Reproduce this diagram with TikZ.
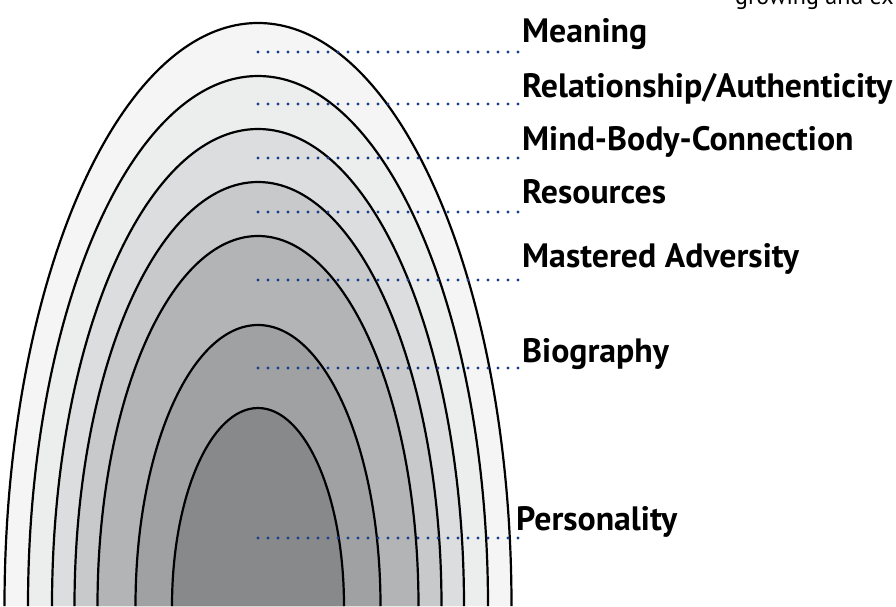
\documentclass[tikz,border=0pt]{standalone}
\usepackage{fontspec}
\setmainfont{PT Sans}
\definecolor{shadeA}{HTML}{F5F5F5}
\definecolor{shadeB}{HTML}{ECEDED}
\definecolor{shadeC}{HTML}{DCDDDF}
\definecolor{shadeD}{HTML}{C8C9CB}
\definecolor{shadeE}{HTML}{B3B4B6}
\definecolor{shadeF}{HTML}{A0A1A3}
\definecolor{shadeG}{HTML}{88898B}
\definecolor{dotblue}{RGB}{22,62,140}
\begin{document}
\begin{tikzpicture}[x=1pt,y=1pt,
  ring/.style={draw=black, line width=2.2pt},
  leader/.style={draw=dotblue, line width=3.3pt, line cap=round, dash pattern=on 0pt off 10pt},
  layer/.style={anchor=base west, inner sep=0pt, font=\bfseries\fontsize{33.8}{34}\selectfont},
  note/.style={anchor=base west, inner sep=0pt, font=\fontsize{24}{24}\selectfont}]
\useasboundingbox (0,0) rectangle (896,606);

% nested half-ellipses, outermost first
\foreach \rx/\ry/\col in {253.5/583/shadeA, 230/530/shadeB, 206/477/shadeC,
                          183.5/424/shadeD, 160.5/370/shadeE, 122.5/281/shadeF, 86/198/shadeG}{
  \fill[\col] ({258-\rx},0) arc[start angle=180, end angle=0, x radius=\rx pt, y radius=\ry pt] -- cycle;
  \draw[ring] ({258-\rx},0) arc[start angle=180, end angle=0, x radius=\rx pt, y radius=\ry pt];
}

% layer labels
\node[layer] (meaning) at (522,563) {Meaning};
\node[layer] (relation) at (522,508) {Relationship/Authenticity};
\node[layer] (mindbody) at (522,455) {Mind-Body-Connection};
\node[layer] (resources) at (522,402) {Resources};
\node[layer] (adversity) at (522,339) {Mastered Adversity};
\node[layer] (biography) at (522,244) {Biography};
\node[layer] (personality) at (516,76) {Personality};

% leader starts and ends
\foreach \n/\y in {meaning/554, relation/502, mindbody/448, resources/394,
                   adversity/326, biography/238, personality/68}{
  \coordinate (\n-a) at (258,\y);
  \coordinate (\n-b) at (528,\y);
  \draw[leader] (\n-a) -- (\n-b);
}

\node[note] (growing) at (735,601) {growing and ex};
\end{tikzpicture}
\end{document}
